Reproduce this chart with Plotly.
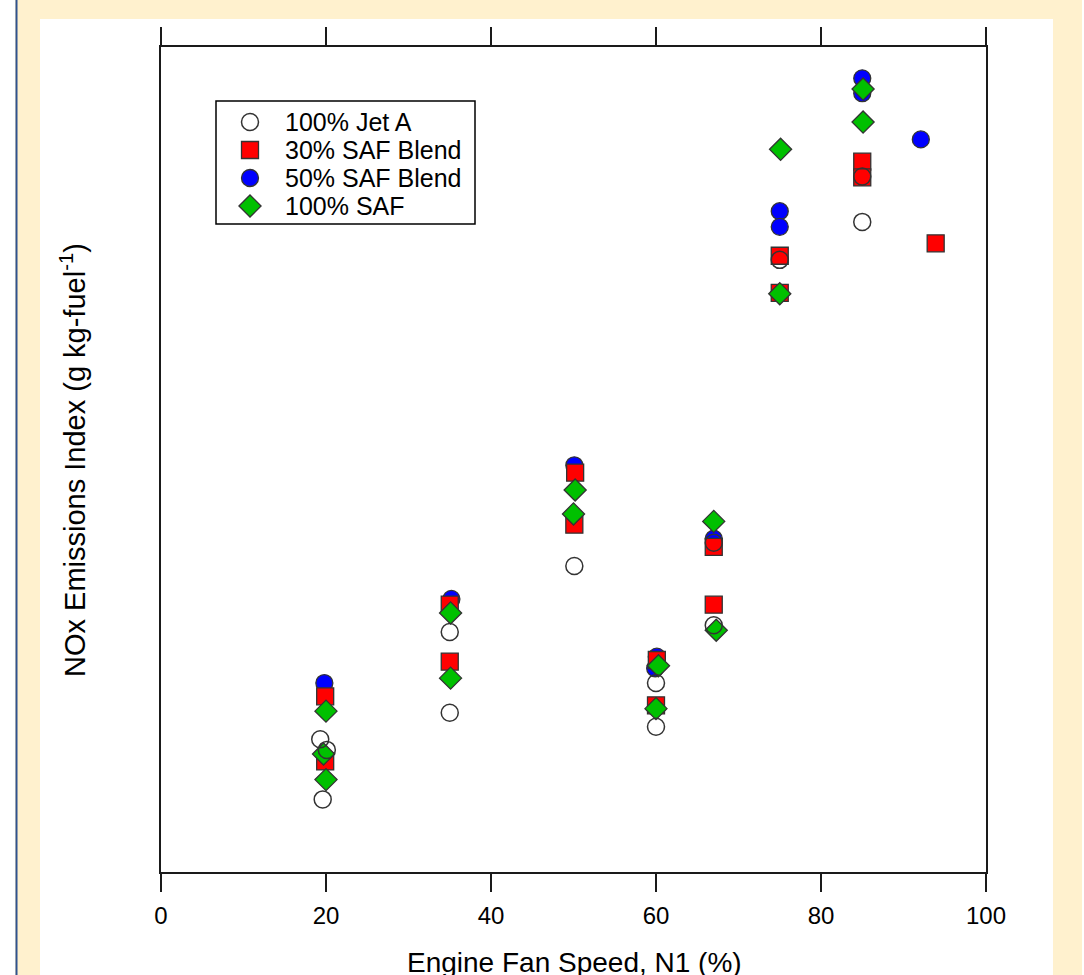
import plotly.graph_objects as go

# ---- data (y in arbitrary index units) ----
jet_a_x = [19.3, 20.1, 19.6, 35.0, 35.0, 50.1, 60.0, 60.0, 67.0, 67.0, 75.0, 85.0, 85.0]
jet_a_y = [16.1, 14.8, 8.8, 29.1, 19.3, 37.1, 22.9, 17.6, 39.9, 29.9, 74.2, 84.3, 78.8]

saf30_x = [19.9, 19.9, 35.0, 35.0, 50.2, 50.1, 60.1, 60.0, 67.0, 67.0, 75.0, 75.0, 85.0, 85.0, 93.9]
saf30_y = [21.3, 13.4, 32.4, 25.5, 48.4, 42.1, 25.7, 20.2, 39.4, 32.4, 74.7, 70.2, 86.1, 84.2, 76.2]

saf50_x = [19.8, 35.2, 50.1, 60.1, 59.9, 67.0, 75.0, 75.0, 85.0, 85.0, 92.1]
saf50_y = [22.9, 33.1, 49.3, 26.1, 24.7, 40.4, 80.1, 78.2, 96.2, 94.4, 88.8]

saf100_x = [20.0, 19.7, 20.0, 35.1, 35.1, 50.2, 50.0, 60.3, 60.0, 67.0, 67.3, 75.1, 75.0, 85.1, 85.1]
saf100_y = [19.5, 14.3, 11.2, 31.4, 23.5, 46.3, 43.4, 25.0, 19.8, 42.5, 29.3, 87.6, 70.1, 94.9, 90.9]

x_ticks = [0, 20, 40, 60, 80, 100]
legend_labels = ["100% Jet A", "30% SAF Blend", "50% SAF Blend", "100% SAF"]

FONT = "Liberation Sans, Arial, sans-serif"
EDGE = "#333333"
MS = 17
C_RED, C_BLUE, C_GREEN = "#FF0000", "#0000FF", "#00C000"

fig = go.Figure()

fig.add_trace(go.Scatter(
    x=saf50_x, y=saf50_y, mode="markers", name=legend_labels[2],
    marker=dict(symbol="circle", size=MS, color=C_BLUE, line=dict(color=EDGE, width=1.3))))
fig.add_trace(go.Scatter(
    x=saf30_x, y=saf30_y, mode="markers", name=legend_labels[1],
    marker=dict(symbol="square", size=MS, color=C_RED, line=dict(color=EDGE, width=1.3))))
fig.add_trace(go.Scatter(
    x=saf100_x, y=saf100_y, mode="markers", name=legend_labels[3],
    marker=dict(symbol="diamond", size=MS, color=C_GREEN, line=dict(color=EDGE, width=1.3))))
fig.add_trace(go.Scatter(
    x=jet_a_x, y=jet_a_y, mode="markers", name=legend_labels[0],
    marker=dict(symbol="circle", size=MS, color="rgba(255,255,255,0)", line=dict(color=EDGE, width=1.5))))

W, H = 1084, 975
L, R, T, B = 161, 98, 47, 103
PW, PH = W - L - R, H - T - B


def px_x(p):
    return (p - L) / PW


def px_y(p):
    return (H - B - p) / PH


shapes = [
    # white panel
    dict(type="rect", xref="paper", yref="paper", x0=px_x(40), x1=px_x(1053), y0=px_y(980), y1=px_y(19),
         fillcolor="white", line=dict(width=0), layer="below"),
    # white strip at far left
    dict(type="rect", xref="paper", yref="paper", x0=px_x(-5), x1=px_x(15), y0=px_y(980), y1=px_y(-5),
         fillcolor="white", line=dict(width=0), layer="below"),
    # blue left rule
    dict(type="line", xref="paper", yref="paper", x0=px_x(16.5), x1=px_x(16.5), y0=px_y(980), y1=px_y(-5),
         line=dict(color="#2F528F", width=2), layer="below"),
    # thin white edge at far right
    dict(type="rect", xref="paper", yref="paper", x0=px_x(1082), x1=px_x(1090), y0=px_y(980), y1=px_y(-5),
         fillcolor="white", line=dict(width=0), layer="below"),
    # legend box
    dict(type="rect", xref="paper", yref="paper", x0=px_x(216), x1=px_x(475), y0=px_y(224), y1=px_y(101),
         fillcolor="white", line=dict(color="black", width=1.5), layer="above"),
]

# legend symbols (hand-built legend to match row spacing)
lx = 250
rows_y = [122, 150, 178, 206]
r = MS / 2
shapes.append(dict(type="circle", xref="paper", yref="paper",
                   x0=px_x(lx - r), x1=px_x(lx + r), y0=px_y(rows_y[0] + r), y1=px_y(rows_y[0] - r),
                   fillcolor="white", line=dict(color=EDGE, width=1.5), layer="above"))
shapes.append(dict(type="rect", xref="paper", yref="paper",
                   x0=px_x(lx - r), x1=px_x(lx + r), y0=px_y(rows_y[1] + r), y1=px_y(rows_y[1] - r),
                   fillcolor=C_RED, line=dict(color=EDGE, width=1.3), layer="above"))
shapes.append(dict(type="circle", xref="paper", yref="paper",
                   x0=px_x(lx - r), x1=px_x(lx + r), y0=px_y(rows_y[2] + r), y1=px_y(rows_y[2] - r),
                   fillcolor=C_BLUE, line=dict(color=EDGE, width=1.3), layer="above"))
rd = r * 1.3
dy = rows_y[3]
shapes.append(dict(type="path", xref="paper", yref="paper",
                   path=(f"M {px_x(lx - rd)} {px_y(dy)} L {px_x(lx)} {px_y(dy - rd)} "
                         f"L {px_x(lx + rd)} {px_y(dy)} L {px_x(lx)} {px_y(dy + rd)} Z"),
                   fillcolor=C_GREEN, line=dict(color=EDGE, width=1.3), layer="above"))

annotations = [
    dict(text="Engine Fan Speed, N1 (%)", xref="paper", yref="paper",
         x=px_x(574), y=px_y(962), xanchor="center", yanchor="middle", showarrow=False,
         font=dict(family=FONT, size=28, color="black")),
    dict(text="NOx Emissions Index (g kg-fuel<sup>-1</sup>)", xref="paper", yref="paper",
         x=px_x(73), y=px_y(460), xanchor="center", yanchor="middle", showarrow=False,
         textangle=-90, font=dict(family=FONT, size=29, color="black")),
]
for lab, yy in zip(legend_labels, rows_y):
    annotations.append(dict(text=lab, xref="paper", yref="paper", x=px_x(283), y=px_y(yy),
                            xanchor="left", yanchor="middle", showarrow=False,
                            font=dict(family=FONT, size=25, color="black")))

fig.update_layout(
    width=W, height=H,
    margin=dict(l=L, r=R, t=T, b=B, pad=0),
    paper_bgcolor="#FFF1CE",
    plot_bgcolor="white",
    font=dict(family=FONT, color="black", size=25),
    shapes=shapes,
    annotations=annotations,
    showlegend=False,
    hovermode=False,
)

fig.update_xaxes(
    range=[0, 100], tickvals=x_ticks, ticktext=[str(v) for v in x_ticks],
    showline=True, linecolor="#1a1a1a", linewidth=2, mirror="ticks",
    ticks="outside", ticklen=18, tickwidth=2, tickcolor="#1a1a1a",
    showgrid=False, zeroline=False, ticklabelstandoff=3,
    tickfont=dict(family=FONT, size=24, color="black"),
)
fig.update_yaxes(
    range=[0, 100], showline=True, linecolor="#1a1a1a", linewidth=2, mirror=True,
    ticks="", showticklabels=False, showgrid=False, zeroline=False,
)

fig.write_html("out.html",
               config={"displayModeBar": False, "staticPlot": True},
               post_script="document.body.style.margin='0px';document.body.style.padding='0px';"
                           "document.body.style.overflow='hidden';")
